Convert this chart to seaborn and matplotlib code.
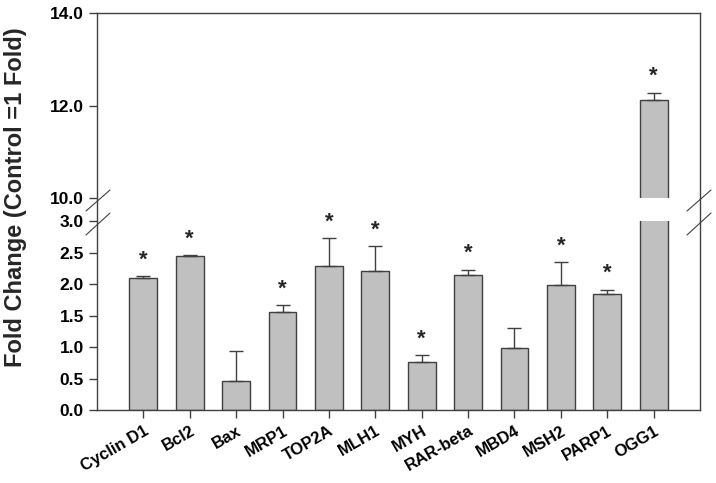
import numpy as np
import pandas as pd
import seaborn as sns
import matplotlib.pyplot as plt
from matplotlib.lines import Line2D

# Values
genes = ['Cyclin D1', 'Bcl2', 'Bax', 'MRP1', 'TOP2A', 'MLH1', 'MYH',
         'RAR-beta', 'MBD4', 'MSH2', 'PARP1', 'OGG1']
fold = [2.10, 2.45, 0.46, 1.55, 2.28, 2.20, 0.76, 2.15, 0.98, 1.98, 1.84, 12.11]
err = [0.03, 0.01, 0.47, 0.11, 0.45, 0.40, 0.11, 0.08, 0.32, 0.37, 0.07, 0.17]
signif = [True, True, False, True, True, True, True, True, False, True, True, True]

df = pd.DataFrame({'gene': genes, 'fold': fold, 'err': err, 'sig': signif})

sns.set_style('ticks')
plt.rcParams['font.family'] = ['Liberation Sans', 'DejaVu Sans']
plt.rcParams['font.weight'] = 'bold'

edge = '#404040'
fig = plt.figure(figsize=(7.16, 4.83), dpi=100)
ax_top = fig.add_axes([0.1355, 0.590, 0.8422, 0.383])
ax_bot = fig.add_axes([0.1355, 0.1511, 0.8422, 0.3913])

for ax in (ax_top, ax_bot):
    sns.barplot(data=df, x='gene', y='fold', order=genes, color='#C0C0C0',
                edgecolor=edge, linewidth=1.0, width=0.6, saturation=1,
                errorbar=None, ax=ax)
    ax.errorbar(np.arange(len(genes)), df['fold'],
                yerr=[np.zeros(len(genes)), df['err']], fmt='none',
                ecolor=edge, elinewidth=1.0, capsize=5, capthick=1.0)
    ax.set_xlim(-1, len(genes))
    for s in ax.spines.values():
        s.set_color(edge)
        s.set_linewidth(1.0)
    ax.tick_params(colors=edge, labelcolor='black', width=1.0, length=6)
    ax.set_xlabel('')
    ax.set_ylabel('')

ax_top.set_ylim(10, 14)
ax_top.set_yticks([10, 12, 14])
ax_top.set_yticklabels(['10.0', '12.0', '14.0'], fontsize=12.5, fontweight='bold')
ax_top.spines['bottom'].set_visible(False)
ax_top.tick_params(axis='x', bottom=False, labelbottom=False)

ax_bot.set_ylim(0, 3)
ax_bot.set_yticks(np.arange(0, 3.01, 0.5))
ax_bot.set_yticklabels([f'{v:.1f}' for v in np.arange(0, 3.01, 0.5)],
                       fontsize=12.5, fontweight='bold')
ax_bot.spines['top'].set_visible(False)
ax_bot.set_xticks(range(len(genes)))
ax_bot.set_xticklabels(genes, rotation=30, ha='right', rotation_mode='anchor',
                       fontsize=12, fontweight='bold')

# significance stars
for i, row in df.iterrows():
    if not row['sig']:
        continue
    ax = ax_top if row['fold'] > 10 else ax_bot
    ax.annotate('*', (i, row['fold'] + row['err']), xytext=(0, 4),
                textcoords='offset points', ha='center', va='bottom',
                fontsize=16, fontweight='bold')

# connect the spines across the break and draw break marks
W, H = 716, 483
def fl(x0, y0, x1, y1, lw=1.0):
    fig.add_artist(Line2D([x0 / W, x1 / W], [1 - y0 / H, 1 - y1 / H],
                          color=edge, lw=lw, transform=fig.transFigure))

fl(97, 198, 97, 221)
fl(700, 198, 700, 221)
for xs in (86, 687):
    fl(xs, 211, xs + 24, 190, 0.8)
    fl(xs, 235, xs + 24, 213, 0.8)

fig.text(0.022, 0.592, 'Fold Change (Control =1 Fold)', rotation=90,
         ha='center', va='center', fontsize=17, fontweight='bold')

fig.savefig('out.png', dpi=100)
